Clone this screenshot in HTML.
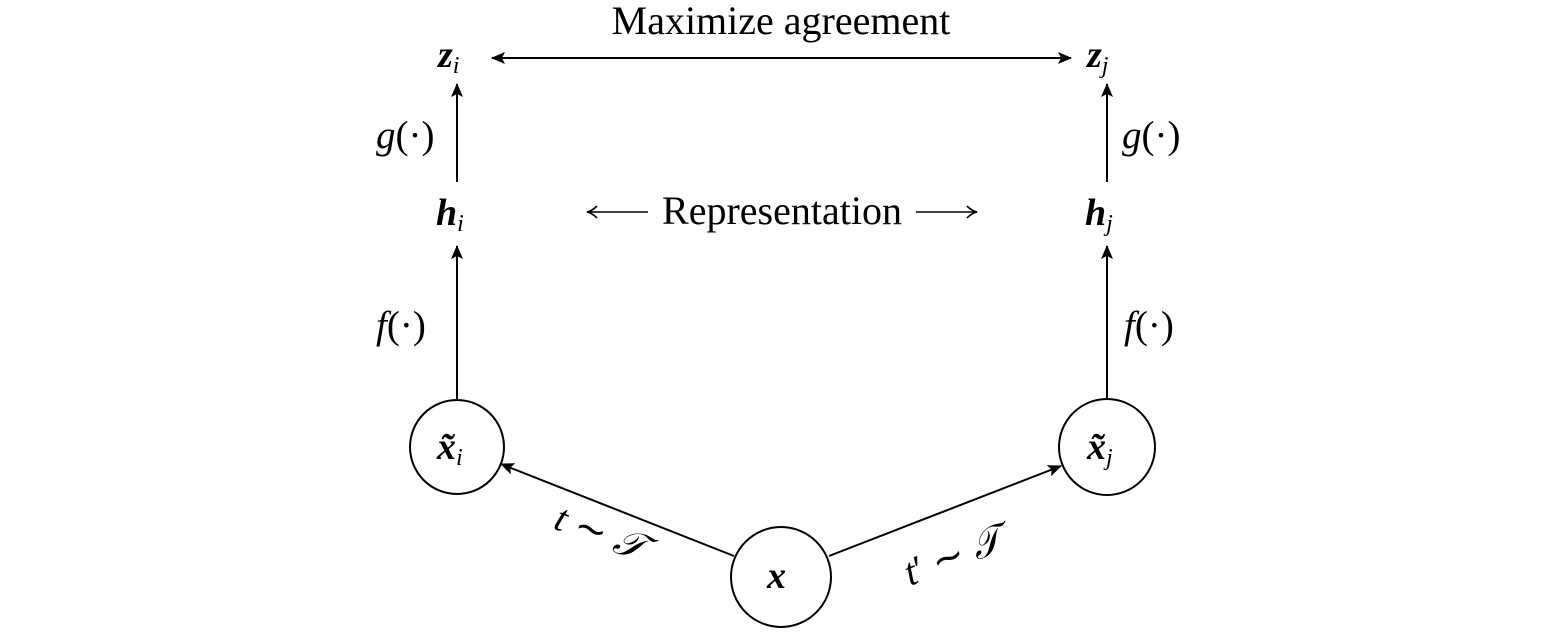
<!DOCTYPE html>
<html><head><meta charset="utf-8"><style>
html,body{margin:0;padding:0;background:#fff;width:1559px;height:634px;overflow:hidden}
svg{display:block}
text{font-family:"Liberation Serif",serif;fill:#000}
</style></head><body>
<svg width="1559" height="634" viewBox="0 0 1559 634" xmlns="http://www.w3.org/2000/svg">
<defs>
<marker id="a" viewBox="0 0 14 12" refX="13" refY="6" markerWidth="14" markerHeight="12" markerUnits="userSpaceOnUse" orient="auto-start-reverse">
<path d="M0,0 L14,6 L0,12 L3,6 z" fill="#000"/></marker>
<marker id="b" viewBox="0 0 12 14" refX="11" refY="7" markerWidth="12" markerHeight="14" markerUnits="userSpaceOnUse" orient="auto-start-reverse">
<path d="M1,1 Q6,6 11,7 Q6,8 1,13" fill="none" stroke="#000" stroke-width="1.6"/></marker>
</defs>
<g stroke="#000" stroke-width="2" fill="none">
<line x1="492" y1="58" x2="1071" y2="58" marker-start="url(#a)" marker-end="url(#a)"/>
<line x1="457" y1="182" x2="457" y2="84" marker-end="url(#a)"/>
<line x1="1107" y1="182" x2="1107" y2="84" marker-end="url(#a)"/>
<line x1="457" y1="400" x2="457" y2="246" marker-end="url(#a)"/>
<line x1="1107" y1="400" x2="1107" y2="246" marker-end="url(#a)"/>
<circle cx="457" cy="447" r="47"/>
<circle cx="1107" cy="447" r="48"/>
<circle cx="781" cy="577" r="50"/>
<line x1="734" y1="556" x2="501" y2="464" marker-end="url(#a)"/>
<line x1="829" y1="556" x2="1061" y2="466" marker-end="url(#a)"/>
<line x1="587" y1="212" x2="648" y2="212" stroke-width="1.6" marker-start="url(#b)"/>
<line x1="916" y1="212" x2="977" y2="212" stroke-width="1.6" marker-end="url(#b)"/>
</g>
<text x="781" y="34" font-size="40" text-anchor="middle">Maximize agreement</text>
<text x="782" y="224" font-size="40" text-anchor="middle">Representation</text>
<g font-style="italic" font-weight="bold" font-size="38">
<text x="438" y="67">z<tspan font-size="24" font-weight="normal" dy="6">i</tspan></text>
<text x="1087" y="67">z<tspan font-size="24" font-weight="normal" dy="6">j</tspan></text>
<text x="436" y="225">h<tspan font-size="24" font-weight="normal" dy="6">i</tspan></text>
<text x="1085" y="225">h<tspan font-size="24" font-weight="normal" dy="6">j</tspan></text>
<text x="437" y="459">x̃<tspan font-size="24" font-weight="normal" dy="6">i</tspan></text>
<text x="1087" y="459">x̃<tspan font-size="24" font-weight="normal" dy="6">j</tspan></text>
<text x="767" y="588">x</text>
</g>
<g font-size="39">
<text x="376" y="148"><tspan font-style="italic">g</tspan>(·)</text>
<text x="1122" y="148"><tspan font-style="italic">g</tspan>(·)</text>
<text x="376" y="338"><tspan font-style="italic">f</tspan>(·)</text>
<text x="1124" y="338"><tspan font-style="italic">f</tspan>(·)</text>
<text x="0" y="0" transform="translate(552,528) rotate(21)"><tspan font-style="italic">t</tspan> ∼ <tspan font-style="italic">𝒯</tspan></text>
<text x="0" y="0" transform="translate(910,586) rotate(-21)"><tspan font-style="italic">t</tspan>′ ∼ <tspan font-style="italic">𝒯</tspan></text>
</g>
</svg>
</body></html>
